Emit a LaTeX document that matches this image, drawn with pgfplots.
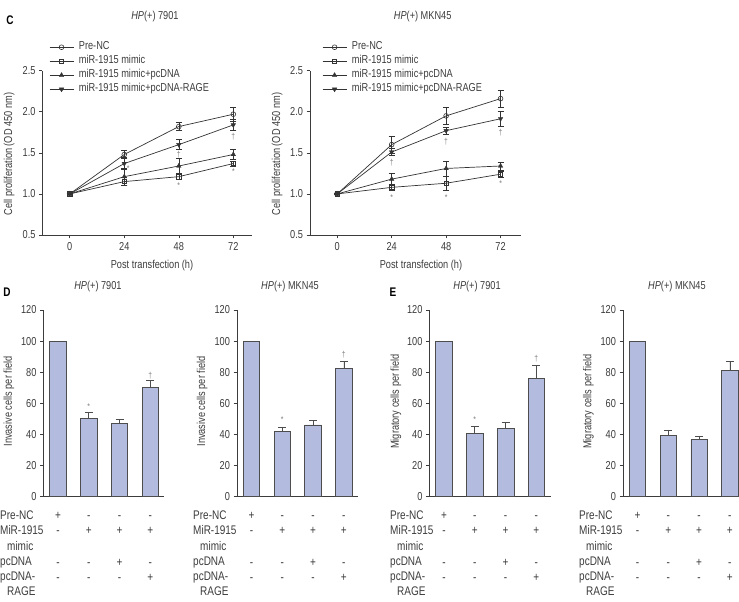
\documentclass[border=0pt]{standalone}
\usepackage{fontspec}
\setmainfont{Liberation Sans}[FakeStretch=0.8]
\usepackage{pgfplots}
\pgfplotsset{compat=1.18}

\definecolor{ink}{HTML}{3C3C3C}
\definecolor{lineink}{HTML}{333333}
\definecolor{barfill}{HTML}{B3BBDF}
\definecolor{baredge}{HTML}{4D4D4D}
\definecolor{note}{HTML}{7E7E7E}

\newcommand{\fs}{\fontsize{11.5}{13.5}\selectfont}
\newcommand{\tbl}{\fontsize{12.5}{15.3}\selectfont}
\newcommand{\rowgap}{16.4pt}
\newcommand{\hp}{\textit{HP}(+)}

\pgfplotsset{
  panel/.style={
    scale only axis, clip=false,
    axis x line*=bottom, axis y line*=left,
    axis line style={ink, line width=0.6pt, -},
    tick align=outside, major tick length=3.5pt,
    every tick/.style={ink, line width=0.6pt},
    tick label style={font=\fs, text=ink},
    /pgf/number format/assume math mode=true,
    label style={font=\fs, text=ink},
    title style={font=\fs, text=ink, anchor=center},
    ylabel style={anchor=center},
    xlabel style={anchor=center},
  },
  growth/.style={panel, width=209pt, height=164.3pt,
    xmin=-12, xmax=80, ymin=0.5, ymax=2.5,
    xtick={0,24,48,72}, ytick={0.5,1.0,1.5,2.0,2.5},
    yticklabel style={/pgf/number format/fixed,
      /pgf/number format/fixed zerofill, /pgf/number format/precision=1},
    xlabel={Post transfection (h)},
    ylabel={Cell proliferation (OD 450 nm)},
    legend style={draw=none, fill=none, anchor=north west, font=\fs,
      text=ink, inner sep=0pt, row sep=3.5pt, column sep=4.5pt,
      nodes={inner sep=0.5pt, text height=7.5pt, text depth=2pt}},
    legend cell align=left,
    legend image code/.code={\draw[mark repeat=2,mark phase=2]
      plot coordinates {(0pt,0pt) (12pt,0pt) (24pt,0pt)};},
  },
  ser/.style={lineink, line width=0.7pt,
    /pgfplots/error bars/y dir=both, /pgfplots/error bars/y explicit,
    /pgfplots/error bars/error bar style={lineink, line width=0.6pt},
    /pgfplots/error bars/error mark options={lineink, line width=0.6pt, rotate=90, mark size=3pt}},
  openmark/.style={mark options={solid, draw=lineink, fill=white, line width=0.6pt}},
  fullmark/.style={mark options={solid, draw=lineink, fill=lineink, line width=0.4pt}},
  bars/.style={panel, width=121pt, height=186.7pt,
    xmin=-0.47, xmax=3.46, ymin=0, ymax=120, ytick={0,20,...,120},
    xtick={0,1,2,3}, xtick style={draw=none},
    xticklabels={{\strut+\\-\\[\rowgap]-\\-}, {\strut-\\+\\[\rowgap]-\\-},
                 {\strut-\\+\\[\rowgap]+\\-}, {\strut-\\+\\[\rowgap]-\\+}},
    xticklabel style={font=\tbl, text=ink, align=center, anchor=north, inner sep=0pt},
    xticklabel shift=8.3pt,
  },
  barser/.style={ybar, bar width=16.5pt, bar shift=0pt, fill=barfill,
    draw=baredge, line width=0.6pt,
    /pgfplots/error bars/y dir=plus, /pgfplots/error bars/y explicit,
    /pgfplots/error bars/error bar style={baredge, line width=0.6pt},
    /pgfplots/error bars/error mark options={baredge, line width=0.6pt, rotate=90, mark size=4pt}},
}
\tikzset{
  note/.style={font=\fontsize{8.5}{9}\selectfont, text=note, inner sep=0pt},
  rowlabels/.style={font=\tbl, text=ink, align=left, anchor=north west, inner sep=0pt},
  panelletter/.style={font=\fontsize{12.5}{13}\selectfont\bfseries, text=black},
}
\newcommand{\rowtext}{\strut Pre-NC\\MiR-1915\\\hspace*{7pt}mimic\\pcDNA\\pcDNA-\\\hspace*{7pt}RAGE}

\begin{document}
\begin{tikzpicture}
\useasboundingbox (0pt,0pt) rectangle (739pt,602pt);

% ---------------- C: proliferation, HP(+) 7901
\begin{axis}[growth, at={(42.5pt,367pt)}, anchor=south west,
  title={\hp\ 7901}, title style={at={(axis description cs:0.538,1.296)}},
  xlabel style={at={(axis description cs:0.524,-0.183)}},
  ylabel style={at={(axis description cs:-0.160,0.493)}},
  legend style={at={(axis description cs:0.031,1.176)}}]
\addplot[ser, mark=o, mark size=2.4pt, openmark] coordinates {
  (0,1.00) +- (0,0.01) (24,1.48) +- (0,0.05) (48,1.82) +- (0,0.05) (72,1.97) +- (0,0.09)};
\addlegendentry{Pre-NC}
\addplot[ser, mark=square, mark size=2.2pt, openmark] coordinates {
  (0,1.00) +- (0,0.01) (24,1.15) +- (0,0.05) (48,1.21) +- (0,0.03) (72,1.37) +- (0,0.03)};
\addlegendentry{miR-1915 mimic}
\addplot[ser, mark=triangle*, mark size=2.6pt, fullmark] coordinates {
  (0,1.00) +- (0,0.01) (24,1.21) +- (0,0.10) (48,1.34) +- (0,0.09) (72,1.48) +- (0,0.06)};
\addlegendentry{miR-1915 mimic+pcDNA}
\addplot[ser, mark=triangle*, mark size=2.6pt,
  mark options={solid, rotate=180, draw=lineink, fill=lineink, line width=0.4pt}] coordinates {
  (0,1.00) +- (0,0.01) (24,1.37) +- (0,0.07) (48,1.60) +- (0,0.06) (72,1.84) +- (0,0.065)};
\addlegendentry{miR-1915 mimic+pcDNA-RAGE}
\node[note, xshift=4pt] at (axis cs:24,1.31) {*};
\node[note] at (axis cs:48,1.10) {*};
\node[note] at (axis cs:48,1.48) {\textdagger};
\node[note] at (axis cs:72,1.27) {*};
\node[note] at (axis cs:72,1.70) {\textdagger};
\end{axis}

% ---------------- C: proliferation, HP(+) MKN45
\begin{axis}[growth, at={(310pt,367pt)}, anchor=south west, width=211pt, xmax=81,
  title={\hp\ MKN45}, title style={at={(axis description cs:0.534,1.293)}},
  xlabel style={at={(axis description cs:0.526,-0.183)}},
  ylabel style={at={(axis description cs:-0.156,0.493)}},
  legend style={at={(axis description cs:0.057,1.176)}}]
\addplot[ser, mark=o, mark size=2.4pt, openmark] coordinates {
  (0,1.00) +- (0,0.01) (24,1.60) +- (0,0.10) (48,1.95) +- (0,0.10) (72,2.16) +- (0,0.10)};
\addlegendentry{Pre-NC}
\addplot[ser, mark=square, mark size=2.2pt, openmark] coordinates {
  (0,1.00) +- (0,0.01) (24,1.08) +- (0,0.04) (48,1.13) +- (0,0.09) (72,1.24) +- (0,0.04)};
\addlegendentry{miR-1915 mimic}
\addplot[ser, mark=triangle*, mark size=2.6pt, fullmark] coordinates {
  (0,1.00) +- (0,0.01) (24,1.18) +- (0,0.07) (48,1.31) +- (0,0.09) (72,1.34) +- (0,0.05)};
\addlegendentry{miR-1915 mimic+pcDNA}
\addplot[ser, mark=triangle*, mark size=2.6pt,
  mark options={solid, rotate=180, draw=lineink, fill=lineink, line width=0.4pt}] coordinates {
  (0,1.00) +- (0,0.01) (24,1.51) +- (0,0.04) (48,1.77) +- (0,0.04) (72,1.915) +- (0,0.09)};
\addlegendentry{miR-1915 mimic+pcDNA-RAGE}
\node[note] at (axis cs:24,1.38) {\textdagger};
\node[note] at (axis cs:24,0.95) {*};
\node[note] at (axis cs:48,1.64) {\textdagger};
\node[note] at (axis cs:48,0.96) {*};
\node[note] at (axis cs:72,1.74) {\textdagger};
\node[note] at (axis cs:72,1.13) {*};
\end{axis}

% ---------------- D: invasion, HP(+) 7901
\begin{axis}[bars, at={(43.5pt,105.3pt)}, anchor=south west,
  title={\hp\ 7901}, title style={at={(axis description cs:0.450,1.091)}},
  ylabel={Invasive cells per field},
  ylabel style={at={(axis description cs:-0.285,0.51)}}]
\addplot[barser] coordinates {(0,100) +- (0,0) (1,50.4) +- (0,3.6) (2,47.1) +- (0,2.8) (3,70.1) +- (0,4.5)};
\node[note] at (axis cs:1,58) {*};
\node[note] at (axis cs:3,78) {\textdagger};
\end{axis}

% ---------------- D: invasion, HP(+) MKN45
\begin{axis}[bars, at={(237pt,105.3pt)}, anchor=south west,
  title={\hp\ MKN45}, title style={at={(axis description cs:0.438,1.091)}},
  ylabel={Invasive cells per field},
  ylabel style={at={(axis description cs:-0.289,0.51)}}]
\addplot[barser] coordinates {(0,100) +- (0,0) (1,41.8) +- (0,3.0) (2,46.1) +- (0,2.8) (3,82.5) +- (0,4.3)};
\node[note] at (axis cs:1,49.3) {*};
\node[note] at (axis cs:3,91.5) {\textdagger};
\end{axis}

% ---------------- E: migration, HP(+) 7901
\begin{axis}[bars, at={(429.5pt,105.3pt)}, anchor=south west,
  title={\hp\ 7901}, title style={at={(axis description cs:0.393,1.091)}},
  ylabel={Migratory cells per field},
  ylabel style={at={(axis description cs:-0.277,0.51)}}]
\addplot[barser] coordinates {(0,100) +- (0,0) (1,40.9) +- (0,4.1) (2,44.1) +- (0,3.9) (3,76.1) +- (0,8.1)};
\node[note] at (axis cs:1,49.7) {*};
\node[note] at (axis cs:3,88.7) {\textdagger};
\end{axis}

% ---------------- E: migration, HP(+) MKN45
\begin{axis}[bars, at={(623pt,105.3pt)}, anchor=south west,
  title={\hp\ MKN45}, title style={at={(axis description cs:0.446,1.091)}},
  ylabel={Migratory cells per field},
  ylabel style={at={(axis description cs:-0.285,0.51)}}]
\addplot[barser] coordinates {(0,100) +- (0,0) (1,39.6) +- (0,3.3) (2,36.9) +- (0,2.1) (3,81.2) +- (0,5.8)};
\end{axis}

% treatment rows under the bar panels
\node[rowlabels] at (0pt,93.5pt) {\rowtext};
\node[rowlabels] at (193pt,93.5pt) {\rowtext};
\node[rowlabels] at (390pt,93.5pt) {\rowtext};
\node[rowlabels] at (579pt,93.5pt) {\rowtext};

% panel letters
\node[panelletter] at (10pt,582pt) {C};
\node[panelletter] at (7pt,309.5pt) {D};
\node[panelletter] at (393pt,310pt) {E};
\end{tikzpicture}
\end{document}
